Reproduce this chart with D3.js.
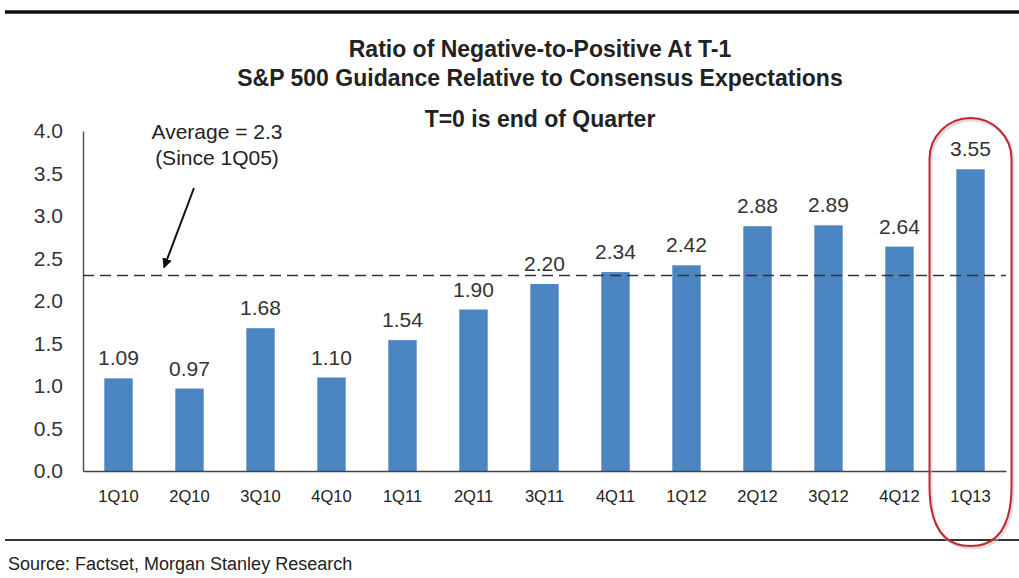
<!DOCTYPE html>
<html>
<head>
<meta charset="utf-8">
<script src="https://cdn.jsdelivr.net/npm/d3@7/dist/d3.min.js"></script>
<style>
  html, body { margin: 0; padding: 0; background: #fff; }
  svg { display: block; font-family: "Liberation Sans", Arial, sans-serif; }
</style>
</head>
<body>
<svg id="chart" width="1019" height="578"></svg>
<script>
// Quarterly ratio of negative-to-positive guidance
const quarters = ["1Q10", "2Q10", "3Q10", "4Q10", "1Q11", "2Q11", "3Q11", "4Q11", "1Q12", "2Q12", "3Q12", "4Q12", "1Q13"];
const ratios = [1.09, 0.97, 1.68, 1.10, 1.54, 1.90, 2.20, 2.34, 2.42, 2.88, 2.89, 2.64, 3.55];
const yTicks = [0, 0.5, 1, 1.5, 2, 2.5, 3, 3.5, 4];
const averageValue = 2.3;
const highlighted = ["1Q13"];

const svg = d3.select("#chart");
const plot = { left: 83, right: 1006, top: 131, bottom: 471 };

const x = d3.scaleBand().domain(quarters).range([plot.left, plot.right]).paddingInner(0.6).paddingOuter(0.3);
const y = d3.scaleLinear().domain([0, 4]).range([plot.bottom, plot.top]);

// frame rules
svg.append("line").attr("x1", 5).attr("x2", 1019).attr("y1", 12).attr("y2", 12)
  .attr("stroke", "#111").attr("stroke-width", 3.5);
svg.append("line").attr("x1", 5).attr("x2", 1019).attr("y1", 540).attr("y2", 540)
  .attr("stroke", "#333").attr("stroke-width", 2);

// titles
const titles = [
  { t: "Ratio of Negative-to-Positive At T-1", y: 57 },
  { t: "S&P 500 Guidance Relative to Consensus Expectations", y: 86 },
  { t: "T=0 is end of Quarter", y: 127 }
];
svg.selectAll("text.title").data(titles).join("text")
  .attr("class", "title")
  .attr("x", 540).attr("y", d => d.y)
  .attr("text-anchor", "middle")
  .attr("font-size", 23).attr("font-weight", "bold").attr("fill", "#222")
  .text(d => d.t);

// bars
svg.selectAll("rect.bar").data(quarters).join("rect")
  .attr("class", "bar")
  .attr("x", d => x(d))
  .attr("width", x.bandwidth())
  .attr("y", (d, i) => y(ratios[i]))
  .attr("height", (d, i) => y(0) - y(ratios[i]))
  .attr("fill", "#4b85c2");

// value labels
svg.selectAll("text.val").data(quarters).join("text")
  .attr("class", "val")
  .attr("x", d => x(d) + x.bandwidth() / 2)
  .attr("y", (d, i) => y(ratios[i]) - 13)
  .attr("text-anchor", "middle")
  .attr("font-size", 21).attr("fill", "#333")
  .text((d, i) => ratios[i].toFixed(2));

// y axis
const yAxis = d3.axisLeft(y).tickValues(yTicks).tickFormat(d3.format(".1f")).tickSize(0).tickPadding(20);
const gy = svg.append("g").attr("transform", `translate(${plot.left},0)`).call(yAxis);
gy.select(".domain").attr("stroke", "#555").attr("stroke-width", 1.5);
gy.selectAll("text").attr("font-size", 21).attr("fill", "#333")
  .attr("font-family", "Liberation Sans, Arial, sans-serif");

// x axis
const xAxis = d3.axisBottom(x).tickSize(0).tickPadding(19);
const gx = svg.append("g").attr("transform", `translate(0,${plot.bottom})`).call(xAxis);
gx.select(".domain").attr("stroke", "#444").attr("stroke-width", 1.5);
gx.selectAll("text").attr("font-size", 16.5).attr("fill", "#222")
  .attr("font-family", "Liberation Sans, Arial, sans-serif");

// average line
svg.append("line")
  .attr("x1", plot.left).attr("x2", plot.right)
  .attr("y1", y(averageValue)).attr("y2", y(averageValue))
  .attr("stroke", "#333").attr("stroke-width", 1.6)
  .attr("stroke-dasharray", "11,6");

// average annotation with arrow
svg.append("defs").append("marker")
  .attr("id", "arrowhead").attr("viewBox", "0 0 10 10")
  .attr("refX", 9).attr("refY", 5)
  .attr("markerWidth", 5).attr("markerHeight", 5)
  .attr("orient", "auto")
  .append("path").attr("d", "M0,0 L10,5 L0,10 Z").attr("fill", "#111");

svg.append("text").attr("x", 217).attr("y", 139).attr("text-anchor", "middle")
  .attr("font-size", 21).attr("fill", "#222").text("Average = " + averageValue);
svg.append("text").attr("x", 217).attr("y", 165).attr("text-anchor", "middle")
  .attr("font-size", 21).attr("fill", "#222").text("(Since 1Q05)");

svg.append("line")
  .attr("x1", 194).attr("y1", 188)
  .attr("x2", 164).attr("y2", y(averageValue) - 8)
  .attr("stroke", "#111").attr("stroke-width", 2)
  .attr("marker-end", "url(#arrowhead)");

// highlight ring around the latest quarter
highlighted.forEach(q => {
  const cx = x(q) + x.bandwidth() / 2;
  const w = 82, top = 118, bottom = 546, r = w / 2;
  const path = `M${cx - r},${top + r} A${r},${r} 0 0 1 ${cx + r},${top + r}
    L${cx + r},${bottom - 60} Q${cx + r},${bottom} ${cx},${bottom}
    Q${cx - r},${bottom} ${cx - r},${bottom - 60} Z`;
  svg.append("path").attr("d", path).attr("fill", "none")
    .attr("stroke", "#bbb").attr("stroke-width", 3).attr("opacity", 0.5)
    .attr("transform", "translate(1.5,2)");
  svg.append("path").attr("d", path).attr("fill", "none")
    .attr("stroke", "#c0282e").attr("stroke-width", 2);
});

// source note
svg.append("text").attr("x", 8).attr("y", 570)
  .attr("font-size", 18).attr("fill", "#222")
  .text("Source: Factset, Morgan Stanley Research");
</script>
</body>
</html>
